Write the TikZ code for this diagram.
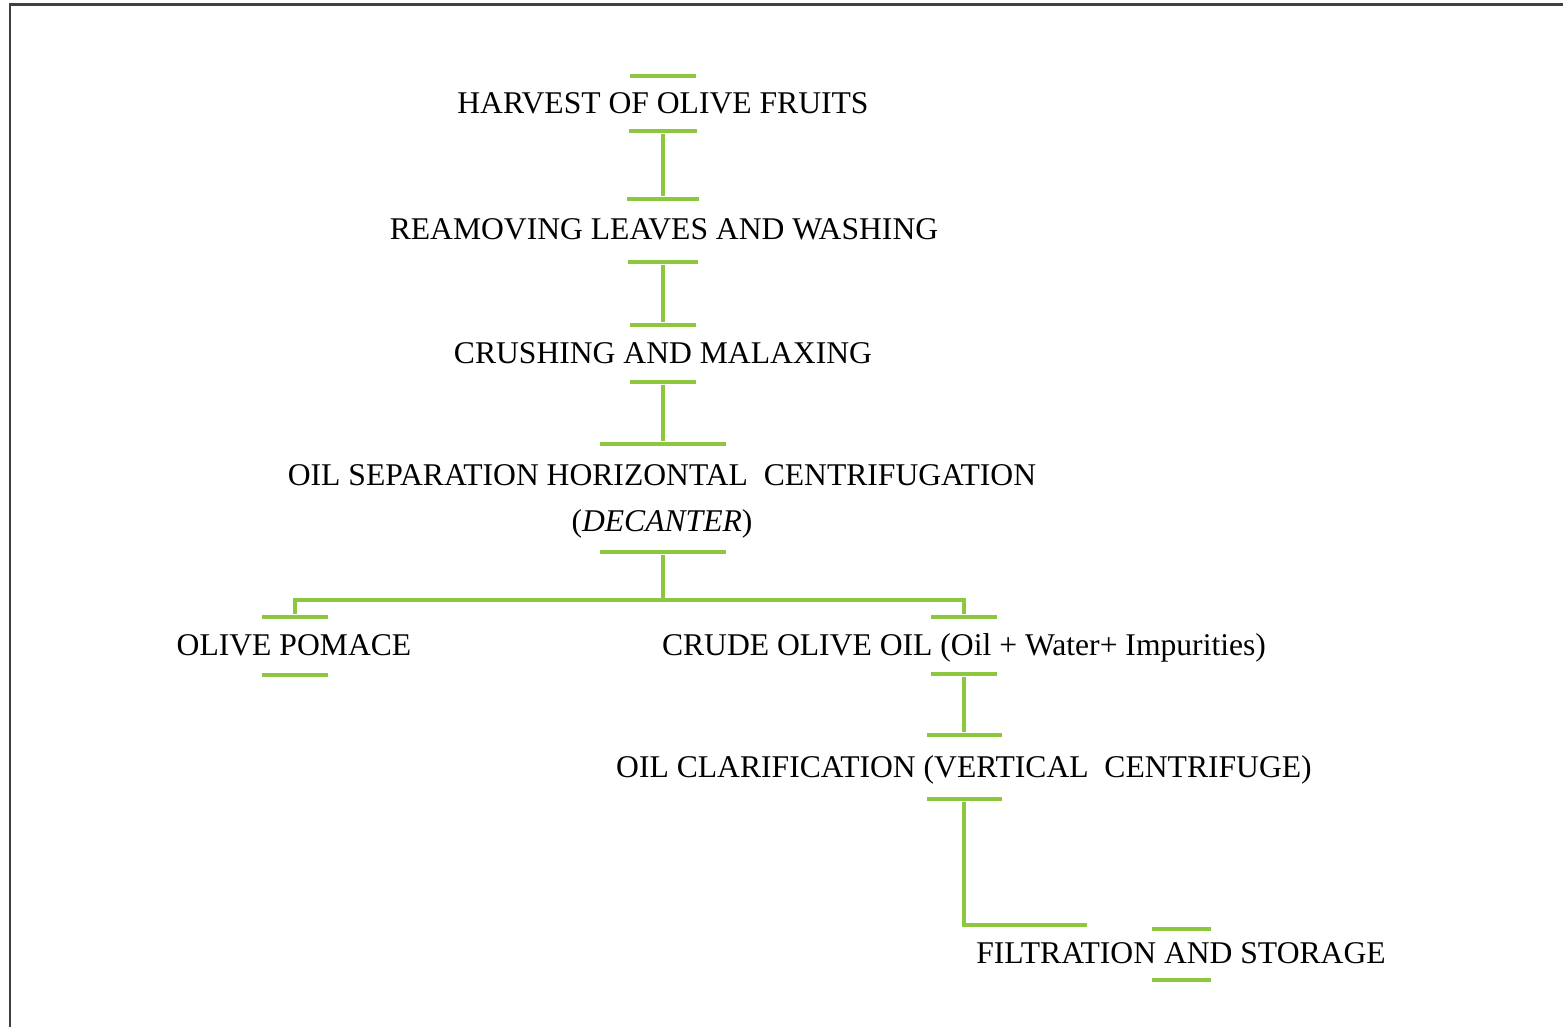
\documentclass[tikz,border=0pt]{standalone}
\usepackage{fontspec}
\setmainfont{Liberation Serif}
\usetikzlibrary{positioning}
\definecolor{mgreen}{RGB}{141,198,63}
\definecolor{mframe}{RGB}{64,64,64}
\tikzset{stage/.style = {inner sep = 0, anchor = base, align = center,
                         font = \fontsize{18}{26}\selectfont}}
\tikzset{bar/.style = {fill = mgreen, inner sep = 0, minimum height = 0.09cm,
                       minimum width = #1}, bar/.default = 1.32cm}
\tikzset{link/.style = {draw = mgreen, line width = 0.07cm}}

\begin{document}
\begin{tikzpicture}[x = 0.02cm, y = -0.02cm]
    \useasboundingbox (0, 0) rectangle (1563, 1027);
    \draw [mframe, line width = 0.06cm] (10, 1030) -- (10, 5) -- (1566, 5);

    % stages
    \node [stage] (harvest) at (663, 114) {HARVEST OF OLIVE FRUITS};
    \node [stage] (washing) at (664, 240) {REAMOVING LEAVES AND WASHING};
    \node [stage] (crushing) at (663, 364) {CRUSHING AND MALAXING};
    \node [stage] (decanter) at (662, 531) {OIL SEPARATION HORIZONTAL\ \ CENTRIFUGATION\\(\textit{DECANTER})};
    \node [stage] (pomace) at (294, 655) {OLIVE POMACE};
    \node [stage] (crude) at (964, 655) {CRUDE OLIVE OIL (Oil + Water+ Impurities)};
    \node [stage] (clarif) at (964, 777) {OIL CLARIFICATION (VERTICAL\ \ CENTRIFUGE)};
    \node [stage] (filtr) at (1181, 963) {FILTRATION AND STORAGE};

    % bars above and below each stage
    \node [bar] (harvest-t) at (663, 76) {};
    \node [bar = 1.38cm] (harvest-b) at (663, 131) {};
    \node [bar = 1.44cm] (washing-t) at (663, 199) {};
    \node [bar = 1.4cm] (washing-b) at (663, 262) {};
    \node [bar = 1.34cm] (crushing-t) at (663, 325) {};
    \node [bar] (crushing-b) at (663, 382) {};
    \node [bar = 2.52cm] (decanter-t) at (663, 444) {};
    \node [bar = 2.52cm] (decanter-b) at (663, 552) {};
    \node [bar = 1.34cm] (pomace-t) at (295, 617) {};
    \node [bar = 1.34cm] (pomace-b) at (295, 675) {};
    \node [bar] (crude-t) at (964, 617) {};
    \node [bar] (crude-b) at (964, 674) {};
    \node [bar = 1.5cm] (clarif-t) at (964, 735) {};
    \node [bar = 1.5cm] (clarif-b) at (964, 799) {};
    \node [bar = 1.18cm] (filtr-t) at (1181, 929) {};
    \node [bar = 1.18cm] (filtr-b) at (1181, 980) {};

    \coordinate (split) at (663, 600);
    \coordinate (filtr-in) at (1087, 925);

    \draw [link] (harvest-b) -- (washing-t);
    \draw [link] (washing-b) -- (crushing-t);
    \draw [link] (crushing-b) -- (decanter-t);
    \draw [link] (decanter-b) -- (split);
    \draw [link] (split) -| (pomace-t.north);
    \draw [link] (split) -| (crude-t.north);
    \draw [link] (crude-b) -- (clarif-t);
    \draw [link] (clarif-b) |- (filtr-in);
\end{tikzpicture}
\end{document}
